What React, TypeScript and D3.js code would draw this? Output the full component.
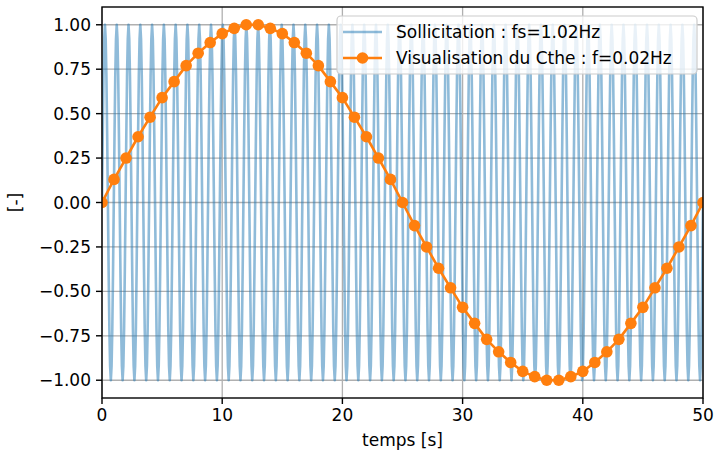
import React from "react";
import * as d3 from "d3";

// ---- Data ----
// Orange markers: one sample per second, t = 0..50 s
const sampleTimes: number[] = [
  0, 1, 2, 3, 4, 5, 6, 7, 8, 9, 10, 11, 12, 13, 14, 15, 16, 17, 18, 19, 20, 21, 22, 23, 24, 25,
  26, 27, 28, 29, 30, 31, 32, 33, 34, 35, 36, 37, 38, 39, 40, 41, 42, 43, 44, 45, 46, 47, 48, 49, 50,
];
const sampleValues: number[] = [
  0.0, 0.13, 0.25, 0.37, 0.48, 0.59, 0.68, 0.77, 0.84, 0.9, 0.95, 0.98, 1.0, 1.0, 0.98, 0.95, 0.9,
  0.84, 0.77, 0.68, 0.59, 0.48, 0.37, 0.25, 0.13, 0.0, -0.13, -0.25, -0.37, -0.48, -0.59, -0.68,
  -0.77, -0.84, -0.9, -0.95, -0.98, -1.0, -1.0, -0.98, -0.95, -0.9, -0.84, -0.77, -0.68, -0.59,
  -0.48, -0.37, -0.25, -0.13, 0.0,
];
// Blue signal: fs = 1.02 Hz (from the legend), 51 cycles over 0..50 s;
// one cycle of its waveform, read as 16 values per period
const signalFreq = 1.02;
const signalCycles = 51;
const cycleShape: number[] = [
  0, 0.38, 0.71, 0.92, 1, 0.92, 0.71, 0.38, 0, -0.38, -0.71, -0.92, -1, -0.92, -0.71, -0.38,
];
const xTicks: number[] = [0, 10, 20, 30, 40, 50];
const yTicks: number[] = [-1, -0.75, -0.5, -0.25, 0, 0.25, 0.5, 0.75, 1];
const legendLabels: string[] = ["Sollicitation : fs=1.02Hz", "Visualisation du Cthe : f=0.02Hz"];
const xLabel = "temps [s]";
const yLabel = "[-]";

// Build the blue series from the read cycle shape
const signalPoints: [number, number][] = [];
for (let c = 0; c < signalCycles; c++) {
  cycleShape.forEach((v, j) => {
    signalPoints.push([(c + j / cycleShape.length) / signalFreq, v]);
  });
}
signalPoints.push([signalCycles / signalFreq, cycleShape[0]]);

const W = 714;
const H = 455;
const L = 102;
const R = 703;
const T = 7;
const B = 398;
const FONT = "'DejaVu Sans', sans-serif";
const FS = 17;
const BLUE = "#1f77b4";
const ORANGE = "#ff7f0e";

const fmtY = (v: number) => {
  const s = d3.format(".2f")(Math.abs(v));
  return v < 0 ? "\u2212" + s : s;
};

export default function App() {
  const x = d3.scaleLinear().domain([0, 50]).range([L, R]);
  const y = d3.scaleLinear().domain([-1.1, 1.1]).range([B, T]);
  const line = d3
    .line<[number, number]>()
    .x((d) => x(d[0]))
    .y((d) => y(d[1]));
  const samples: [number, number][] = sampleTimes.map((t, i) => [t, sampleValues[i]]);

  const legX = 337;
  const legY = 16;
  const legW = 360;
  const legH = 58;
  const row1 = 32;
  const row2 = 58;

  return (
    <svg
      width={W}
      height={H}
      style={{ position: "absolute", left: 0, top: 0, background: "#fff" }}
      fontFamily={FONT}
    >
      <defs>
        <clipPath id="plotclip">
          <rect x={L} y={T} width={R - L} height={B - T} />
        </clipPath>
      </defs>
      {/* grid */}
      <g stroke="#b0b0b0" strokeWidth={1.3}>
        {xTicks.map((t) => (
          <line key={"gx" + t} x1={x(t)} x2={x(t)} y1={T} y2={B} />
        ))}
        {yTicks.map((t) => (
          <line key={"gy" + t} x1={L} x2={R} y1={y(t)} y2={y(t)} />
        ))}
      </g>
      <g clipPath="url(#plotclip)">
        <path d={line(signalPoints) || ""} fill="none" stroke={BLUE} strokeOpacity={0.5} strokeWidth={2.6} strokeLinejoin="round" />
        <path d={line(samples) || ""} fill="none" stroke={ORANGE} strokeWidth={2.6} />
        {samples.map((d, i) => (
          <circle key={i} cx={x(d[0])} cy={y(d[1])} r={5.8} fill={ORANGE} />
        ))}
      </g>
      {/* spines */}
      <rect x={L} y={T} width={R - L} height={B - T} fill="none" stroke="#000" strokeWidth={1.4} />
      {/* x ticks */}
      <g fontSize={FS} textAnchor="middle" fill="#000">
        {xTicks.map((t) => (
          <g key={"xt" + t}>
            <line x1={x(t)} x2={x(t)} y1={B} y2={B + 6} stroke="#000" strokeWidth={1.4} />
            <text x={x(t)} y={B + 23}>
              {t}
            </text>
          </g>
        ))}
      </g>
      {/* y ticks */}
      <g fontSize={FS} textAnchor="end" fill="#000">
        {yTicks.map((t) => (
          <g key={"yt" + t}>
            <line x1={L - 6} x2={L} y1={y(t)} y2={y(t)} stroke="#000" strokeWidth={1.4} />
            <text x={L - 11} y={y(t)} dy="0.36em">
              {fmtY(t)}
            </text>
          </g>
        ))}
      </g>
      <text x={(L + R) / 2} y={446} textAnchor="middle" fontSize={FS} fill="#000">
        {xLabel}
      </text>
      <text
        transform={`translate(21, ${(T + B) / 2}) rotate(-90)`}
        textAnchor="middle"
        fontSize={FS}
        fill="#000"
      >
        {yLabel}
      </text>
      {/* legend */}
      <rect x={legX} y={legY} width={legW} height={legH} rx={4} fill="#fff" fillOpacity={0.8} stroke="#cccccc" strokeWidth={1.2} />
      <line x1={343} x2={382} y1={row1} y2={row1} stroke={BLUE} strokeOpacity={0.5} strokeWidth={2.6} />
      <line x1={343} x2={382} y1={row2} y2={row2} stroke={ORANGE} strokeWidth={2.6} />
      <circle cx={362.5} cy={row2} r={5.8} fill={ORANGE} />
      <text x={396} y={row1} dy="0.36em" fontSize={FS} fill="#000">
        {legendLabels[0]}
      </text>
      <text x={396} y={row2} dy="0.36em" fontSize={FS} fill="#000">
        {legendLabels[1]}
      </text>
    </svg>
  );
}
